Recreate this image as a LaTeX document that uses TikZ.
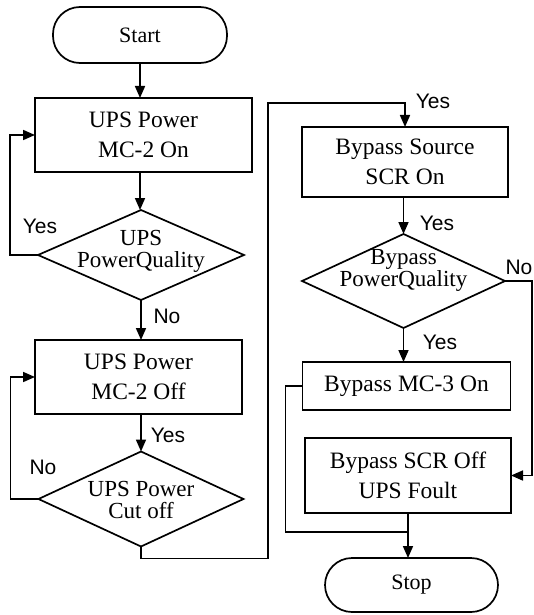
\documentclass[tikz,border=0pt]{standalone}
\usepackage{fontspec}
\setmainfont{Liberation Serif}
\setsansfont{Liberation Sans}
\usetikzlibrary{arrows.meta,shapes.geometric}
\begin{document}
\begin{tikzpicture}[x=1pt,y=-1pt,
  every node/.style={inner sep=0pt, outer sep=0pt},
  term/.style={draw, line width=1.7pt, rounded corners=27pt, font=\fontsize{22}{26}\selectfont},
  box/.style={draw, line width=1.7pt, align=center, font=\fontsize{23.5}{30}\selectfont},
  dec/.style={draw, diamond, line width=1.7pt},
  dtext/.style={align=center, font=\fontsize{23}{22}\selectfont},
  lbl/.style={font=\sffamily\fontsize{21}{24}\selectfont},
  line/.style={line width=1.7pt},
  arr/.style={line, -{Triangle[length=12pt,width=10pt]}}]
\useasboundingbox[fill=white] (0,0) rectangle (534,615);

\node[term, minimum width=174pt, minimum height=56pt] (start) at (140,35) {Start};
\node[box, minimum width=217pt, minimum height=74pt] (b1) at (143.5,135) {UPS Power\\MC-2 On};
\node[dec, minimum width=206pt, minimum height=90pt] (d1) at (141,255) {};
\node[dtext] (t1) at (141,251) {UPS\\PowerQuality};
\node[box, minimum width=207pt, minimum height=74pt] (b2) at (138.5,377) {UPS Power\\MC-2 Off};
\node[dec, minimum width=205pt, minimum height=95pt] (d2) at (141,499) {};
\node[dtext] (t2) at (141,500) {UPS Power\\Cut off};
\node[box, minimum width=206pt, minimum height=70pt] (b3) at (405,162) {Bypass Source\\SCR On};
\node[dec, minimum width=203pt, minimum height=94pt] (d3) at (403.5,281) {};
\node[dtext] (t3) at (403.5,270) {Bypass\\PowerQuality};
\node[box, minimum width=208pt, minimum height=48pt] (b4) at (406.5,386) {Bypass MC-3 On};
\node[box, minimum width=206pt, minimum height=75pt] (b5) at (408,475.5) {Bypass SCR Off\\UPS Foult};
\node[term, minimum width=173pt, minimum height=54pt] (stop) at (411.5,585) {Stop};

\coordinate (top) at (268,103);
\coordinate (j) at ([yshift=-19pt]b5.south);

\draw[arr] (start.south) -- (start.south |- b1.north);
\draw[arr] (start.south |- b1.south) -- (start.south |- d1.north);
\draw[arr] (d1.west) -- ++(-28,0) |- (b1.west);
\draw[arr] (d1.south) -- (d1.south |- b2.north);
\draw[arr] (d2.north |- b2.south) -- (d2.north);
\draw[arr] (d2.west) -- ++(-28,0) |- (b2.west);
\draw[arr] (d2.south) -- ++(0,12) -| (top) -| (b3.north);
\draw[arr] (d3.north |- b3.south) -- (d3.north);
\draw[arr] (d3.south) -- (d3.south |- b4.north);
\draw[arr] (d3.east) -- ++(27,0) |- (b5.east);
\draw[line] (b4.west) -- ++(-17,0) |- (j);
\draw[arr] (b5.south) -- (b5.south |- stop.north);

\node[lbl] at (40,226) {Yes};
\node[lbl] at (167,316) {No};
\node[lbl] at (168,435) {Yes};
\node[lbl] at (43,467) {No};
\node[lbl] at (433,101) {Yes};
\node[lbl] at (437,223) {Yes};
\node[lbl] at (440,342) {Yes};
\node[lbl] at (519,267) {No};
\end{tikzpicture}
\end{document}
